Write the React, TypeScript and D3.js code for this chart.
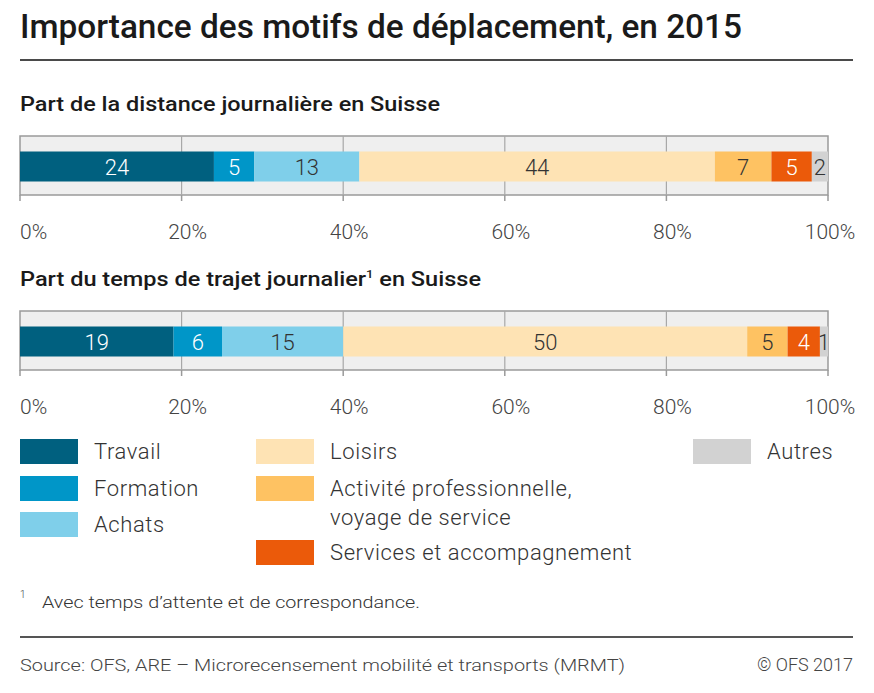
import React from "react";
import * as d3 from "d3";

const categories = [
  "Travail",
  "Formation",
  "Achats",
  "Loisirs",
  "Activité professionnelle, voyage de service",
  "Services et accompagnement",
  "Autres",
];
const colors = ["#00607f", "#0096c8", "#7fcfea", "#fee3b4", "#fec262", "#eb5a0a", "#d2d2d2"];
const labelColors = ["#ffffff", "#ffffff", "#333333", "#333333", "#333333", "#ffffff", "#333333"];
const distanceValues = [24, 5, 13, 44, 7, 5, 2];
const tempsValues = [19, 6, 15, 50, 5, 4, 1];
const tickValues = [0, 20, 40, 60, 80, 100];

const W = 874;
const H = 693;
const FONT = "Roboto, 'Noto Sans', sans-serif";

function stackSegments(values: number[]) {
  const row: Record<string, number> = {};
  categories.forEach((c, i) => (row[c] = values[i]));
  const stack = d3.stack<Record<string, number>>().keys(categories);
  return stack([row]).map((s, i) => ({ key: s.key, i, x0: s[0][0], x1: s[0][1], v: values[i] }));
}

function Panel({ values, boxTop }: { values: number[]; boxTop: number }) {
  const x = d3.scaleLinear().domain([0, 100]).range([20, 828]);
  const boxH = 59;
  const barTop = boxTop + 15.5;
  const barH = 30;
  const segs = stackSegments(values);
  return (
    <g>
      <rect x={x(0)} y={boxTop} width={x(100) - x(0)} height={boxH} fill="#efefef" stroke="#9a9a9a" strokeWidth={1.5} />
      {tickValues.slice(1, -1).map((t) => (
        <line key={t} x1={x(t)} x2={x(t)} y1={boxTop} y2={boxTop + boxH} stroke="#a8a8a8" strokeWidth={1.2} />
      ))}
      {segs.map((s) => (
        <rect key={s.key} x={x(s.x0)} y={barTop} width={x(s.x1) - x(s.x0)} height={barH} fill={colors[s.i]} />
      ))}
      {segs.map((s) => (
        <text
          key={"l" + s.key}
          x={(x(s.x0) + x(s.x1)) / 2}
          y={barTop + barH / 2 + 8}
          textAnchor="middle"
          fontFamily={FONT}
          fontWeight={300}
          fontSize={22}
          fill={labelColors[s.i]}
        >
          {s.v}
        </text>
      ))}
      {tickValues.map((t) => (
        <line key={"t" + t} x1={x(t)} x2={x(t)} y1={boxTop + boxH} y2={boxTop + boxH + 6} stroke="#9a9a9a" strokeWidth={1.5} />
      ))}
      {tickValues.map((t, i) => (
        <text
          key={"tl" + t}
          x={i === 0 ? x(t) : x(t) + (i === tickValues.length - 1 ? 2 : 6)}
          y={boxTop + boxH + 44}
          textAnchor={i === 0 ? "start" : "middle"}
          fontFamily={FONT}
          fontWeight={300}
          fontSize={21}
          fill="#444"
        >
          {t}%
        </text>
      ))}
    </g>
  );
}

const legendItems = [
  { i: 0, sx: 20, sy: 439, lines: ["Travail"] },
  { i: 1, sx: 20, sy: 476, lines: ["Formation"] },
  { i: 2, sx: 20, sy: 512, lines: ["Achats"] },
  { i: 3, sx: 256, sy: 439, lines: ["Loisirs"] },
  { i: 4, sx: 256, sy: 476, lines: ["Activité professionnelle,", "voyage de service"] },
  { i: 5, sx: 256, sy: 540, lines: ["Services et accompagnement"] },
  { i: 6, sx: 693, sy: 439, lines: ["Autres"] },
];

export default function App() {
  return (
    <svg width={W} height={H} style={{ position: "absolute", left: 0, top: 0, background: "#fff" }}>
      <rect width={W} height={H} fill="#fff" />
      <text x={20} y={38} fontFamily={FONT} fontWeight={500} fontSize={34} fill="#1a1a1a" textLength={722} lengthAdjust="spacingAndGlyphs">
        Importance des motifs de déplacement, en 2015
      </text>
      <line x1={20} x2={853} y1={60} y2={60} stroke="#4a4a4a" strokeWidth={2} />

      <text x={20} y={111} fontFamily={FONT} fontWeight={500} fontSize={20} fill="#1a1a1a" textLength={420} lengthAdjust="spacingAndGlyphs">
        Part de la distance journalière en Suisse
      </text>
      <Panel values={distanceValues} boxTop={136} />

      <text x={20} y={286} fontFamily={FONT} fontWeight={500} fontSize={20} fill="#1a1a1a" textLength={461} lengthAdjust="spacingAndGlyphs">
        <tspan>Part du temps de trajet journalier</tspan>
        <tspan fontSize={11} dy={-8}>1</tspan>
        <tspan dy={8}> en Suisse</tspan>
      </text>
      <Panel values={tempsValues} boxTop={311} />

      {legendItems.map((it) => (
        <g key={it.i}>
          <rect x={it.sx} y={it.sy} width={58} height={25} fill={colors[it.i]} />
          {it.lines.map((ln, k) => (
            <text
              key={k}
              x={it.sx + 74}
              y={it.sy + 20 + k * 29}
              fontFamily={FONT}
              fontWeight={300}
              fontSize={22}
              letterSpacing={0.6}
              fill="#333"
            >
              {ln}
            </text>
          ))}
        </g>
      ))}

      <text x={20} y={598} fontFamily={FONT} fontWeight={300} fontSize={10} fill="#444">1</text>
      <text x={42} y={608} fontFamily={FONT} fontWeight={300} fontSize={17} fill="#333" textLength={378} lengthAdjust="spacingAndGlyphs">
        Avec temps d’attente et de correspondance.
      </text>
      <line x1={20} x2={853} y1={637} y2={637} stroke="#555" strokeWidth={2} />
      <text x={20} y={671} fontFamily={FONT} fontWeight={300} fontSize={17} fill="#444" textLength={605} lengthAdjust="spacingAndGlyphs">
        Source: OFS, ARE – Microrecensement mobilité et transports (MRMT)
      </text>
      <text x={853} y={671} textAnchor="end" fontFamily={FONT} fontWeight={300} fontSize={18} fill="#444">
        © OFS 2017
      </text>
    </svg>
  );
}
